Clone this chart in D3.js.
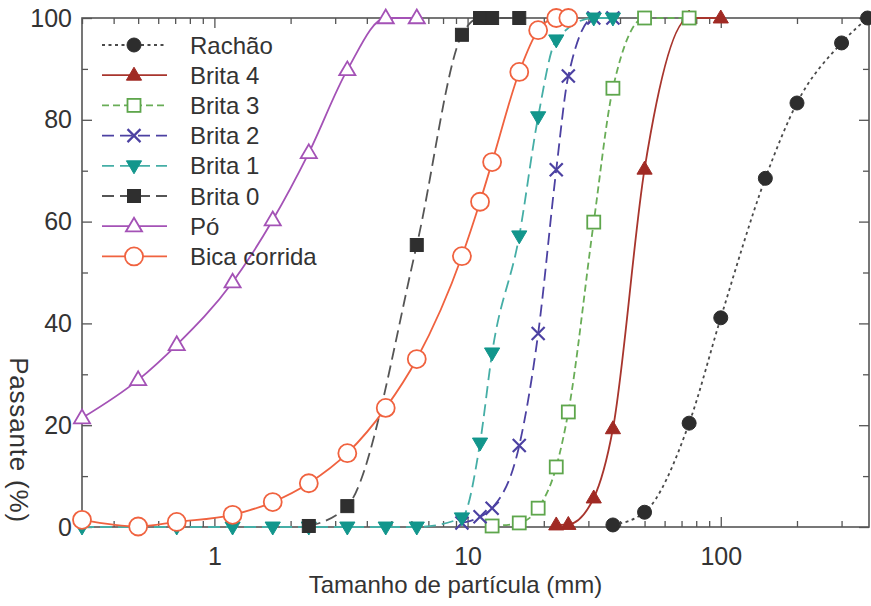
<!DOCTYPE html>
<html>
<head>
<meta charset="utf-8">
<script src="https://cdn.jsdelivr.net/npm/d3@7"></script>
<style>
  body { margin: 0; background: #fff; }
  text { font-family: "Liberation Sans", Arial, sans-serif; fill: #333; }
</style>
</head>
<body>
<div class="container"></div>
<script>
const WIDTH = 871;
const HEIGHT = 606;
const LEFT = 82, RIGHT = 869, TOP = 18, BOTTOM = 527;

// sieve sizes (mm) and percent passing
var rachaoSize = [37.5, 50, 75, 100, 150, 200, 300, 380];
var rachaoPass = [0.4, 2.9, 20.4, 41.1, 68.5, 83.3, 95.1, 100];

var brita4Size = [22.4, 25, 31.5, 37.5, 50, 75, 100];
var brita4Pass = [0.4, 0.5, 5.7, 19.3, 70.3, 100, 100];

var brita3Size = [12.5, 16, 19, 22.4, 25, 31.5, 37.5, 50, 75];
var brita3Pass = [0.2, 0.8, 3.7, 11.8, 22.6, 59.9, 86.2, 100, 100];

var brita2Size = [9.5, 11.2, 12.5, 16, 19, 22.4, 25, 31.5, 37.5];
var brita2Pass = [0.8, 2.0, 3.7, 16.0, 38.0, 70.2, 88.6, 100, 100];

var brita1Size = [0.3, 0.5, 0.71, 1.18, 1.7, 2.36, 3.35, 4.75, 6.3, 9.5, 11.2, 12.5, 16, 19, 22.4, 31.5, 37.5];
var brita1Pass = [0, 0, 0, 0, 0, 0, 0, 0, 0, 1.8, 16.5, 34.2, 57.2, 80.6, 95.7, 100, 100];

var brita0Size = [2.36, 3.35, 6.3, 9.5, 11.2, 12.5, 16];
var brita0Pass = [0.2, 4.1, 55.4, 96.7, 100, 100, 100];

var poSize = [0.3, 0.5, 0.71, 1.18, 1.7, 2.36, 3.35, 4.75, 6.3];
var poPass = [21.4, 28.9, 35.8, 48.1, 60.3, 73.5, 89.8, 100, 100];

var bicaSize = [0.3, 0.5, 0.71, 1.18, 1.7, 2.36, 3.35, 4.75, 6.3, 9.5, 11.2, 12.5, 16, 19, 22.4, 25];
var bicaPass = [1.4, 0.1, 1.0, 2.4, 4.9, 8.6, 14.5, 23.4, 33.0, 53.2, 63.9, 71.7, 89.4, 97.6, 100, 100];

var xMajor = [1, 10, 100];
var xMinor = [0.3, 0.4, 0.5, 0.6, 0.7, 0.8, 0.9, 2, 3, 4, 5, 6, 7, 8, 9, 20, 30, 40, 50, 60, 70, 80, 90, 200, 300];
var yMajor = [0, 20, 40, 60, 80, 100];
var yMinor = [10, 30, 50, 70, 90];

var series = [
  {name: 'Rachão', size: rachaoSize, pass: rachaoPass, line: '#4a4a4a', color: '#2d2d2d', dash: '3,3.5', mark: 'circle', fill: true},
  {name: 'Brita 4', size: brita4Size, pass: brita4Pass, line: '#a8352d', color: '#a02a24', dash: null, mark: 'triUp', fill: true},
  {name: 'Brita 3', size: brita3Size, pass: brita3Pass, line: '#69ad57', color: '#5ea64c', dash: '7,4', mark: 'square', fill: false},
  {name: 'Brita 2', size: brita2Size, pass: brita2Pass, line: '#4c41a2', color: '#4c41a2', dash: '12,6', mark: 'cross', fill: false},
  {name: 'Brita 1', size: brita1Size, pass: brita1Pass, line: '#45aea6', color: '#12968c', dash: '12,6', mark: 'triDown', fill: true},
  {name: 'Brita 0', size: brita0Size, pass: brita0Pass, line: '#555555', color: '#2f2f2f', dash: '12,6', mark: 'square', fill: true},
  {name: 'Pó', size: poSize, pass: poPass, line: '#a452b6', color: '#a452b6', dash: null, mark: 'triUp', fill: false},
  {name: 'Bica corrida', size: bicaSize, pass: bicaPass, line: '#f0623f', color: '#f0623f', dash: null, mark: 'circle', fill: false}
];

var svg = d3.select('.container').append('svg')
  .attr('width', WIDTH)
  .attr('height', HEIGHT);

var xScale = d3.scaleLog().domain([0.3, 385]).range([LEFT, RIGHT]);
var yScale = d3.scaleLinear().domain([0, 100]).range([BOTTOM, TOP]);

var translate = function(x, y){
  return 'translate(' + x + ',' + y + ')';
};

// axes, ticks pointing inward on all four sides
var styleAxis = function (g) {
  g.select('.domain').remove();
  g.selectAll('.tick line').attr('stroke', '#555').attr('stroke-width', 1.3);
  g.selectAll('.tick text').style('font-size', '25px').attr('fill', '#333');
};

svg.append('g').attr('transform', translate(0, BOTTOM))
  .call(d3.axisBottom(xScale).tickValues(xMajor).tickSize(-10).tickPadding(20).tickFormat(d3.format('d')))
  .call(styleAxis);
svg.append('g').attr('transform', translate(0, BOTTOM))
  .call(d3.axisBottom(xScale).tickValues(xMinor).tickSize(-6).tickFormat(''))
  .call(styleAxis);
svg.append('g').attr('transform', translate(0, TOP))
  .call(d3.axisTop(xScale).tickValues(xMajor).tickSize(-10).tickFormat(''))
  .call(styleAxis);
svg.append('g').attr('transform', translate(0, TOP))
  .call(d3.axisTop(xScale).tickValues(xMinor).tickSize(-6).tickFormat(''))
  .call(styleAxis);

svg.append('g').attr('transform', translate(LEFT, 0))
  .call(d3.axisLeft(yScale).tickValues(yMajor).tickSize(-10).tickPadding(10))
  .call(styleAxis);
svg.append('g').attr('transform', translate(LEFT, 0))
  .call(d3.axisLeft(yScale).tickValues(yMinor).tickSize(-6).tickFormat(''))
  .call(styleAxis);
svg.append('g').attr('transform', translate(RIGHT, 0))
  .call(d3.axisRight(yScale).tickValues(yMajor).tickSize(-10).tickFormat(''))
  .call(styleAxis);
svg.append('g').attr('transform', translate(RIGHT, 0))
  .call(d3.axisRight(yScale).tickValues(yMinor).tickSize(-6).tickFormat(''))
  .call(styleAxis);

svg.append('rect')
  .attr('x', LEFT).attr('y', TOP)
  .attr('width', RIGHT - LEFT).attr('height', BOTTOM - TOP)
  .attr('fill', 'none').attr('stroke', '#555').attr('stroke-width', 1.6);

// axis titles
svg.append('text')
  .attr('x', (LEFT + RIGHT) / 2 - 20).attr('y', 593)
  .attr('text-anchor', 'middle')
  .style('font-size', '24px')
  .text('Tamanho de partícula (mm)');

svg.append('text')
  .attr('transform', translate(10, 440) + ' rotate(90)')
  .attr('text-anchor', 'middle')
  .style('font-size', '26px')
  .style('letter-spacing', '0.8px')
  .text('Passante (%)');

// markers
var drawMarker = function (g, s) {
  var path;
  if (s.mark === 'circle') {
    path = g.append('circle').attr('r', s.fill ? 7 : 9);
  } else if (s.mark === 'square') {
    var h = 6.5;
    path = g.append('rect').attr('x', -h).attr('y', -h).attr('width', 2 * h).attr('height', 2 * h);
  } else if (s.mark === 'triUp' || s.mark === 'triDown') {
    var r = s.fill ? 8 : 8.5;
    var pts = [[0, -r], [r * 0.95, r * 0.62], [-r * 0.95, r * 0.62]];
    if (s.mark === 'triDown') pts = pts.map(function(p){ return [p[0], -p[1]]; });
    path = g.append('path').attr('d', 'M' + pts.join('L') + 'Z');
  } else {
    var c = 6.5;
    path = g.append('path').attr('d', 'M' + (-c) + ',' + (-c) + 'L' + c + ',' + c + 'M' + (-c) + ',' + c + 'L' + c + ',' + (-c));
  }
  path.attr('fill', s.fill ? s.color : (s.mark === 'cross' ? 'none' : '#fff'))
    .attr('stroke', s.color)
    .attr('stroke-width', s.mark === 'cross' ? 2.2 : (s.fill ? 1 : 1.8));
};

var line = d3.line()
  .curve(d3.curveMonotoneX)
  .x(function(d){ return xScale(d.x); })
  .y(function(d){ return yScale(d.y); });

series.forEach(function (s) {
  var pts = s.size.map(function (v, i) { return {x: v, y: s.pass[i]}; });
  var g = svg.append('g');
  g.append('path')
    .attr('d', line(pts))
    .attr('fill', 'none')
    .attr('stroke', s.line)
    .attr('stroke-width', 1.8)
    .attr('stroke-dasharray', s.dash);
  g.selectAll('.pt')
    .data(pts)
    .enter().append('g')
    .attr('transform', function(d){ return translate(xScale(d.x), yScale(d.y)); })
    .each(function(){ drawMarker(d3.select(this), s); });
});

// legend
var legend = svg.append('g');
series.forEach(function (s, i) {
  var y = 45 + i * 30.2;
  var row = legend.append('g').attr('transform', translate(0, y));
  row.append('line')
    .attr('x1', 102).attr('x2', 167)
    .attr('stroke', s.line).attr('stroke-width', 1.8)
    .attr('stroke-dasharray', s.dash);
  var m = row.append('g').attr('transform', translate(134, 0));
  drawMarker(m, s);
  row.append('text')
    .attr('x', 190).attr('dy', '0.36em')
    .style('font-size', '24px')
    .text(s.name);
});
</script>
</body>
</html>
